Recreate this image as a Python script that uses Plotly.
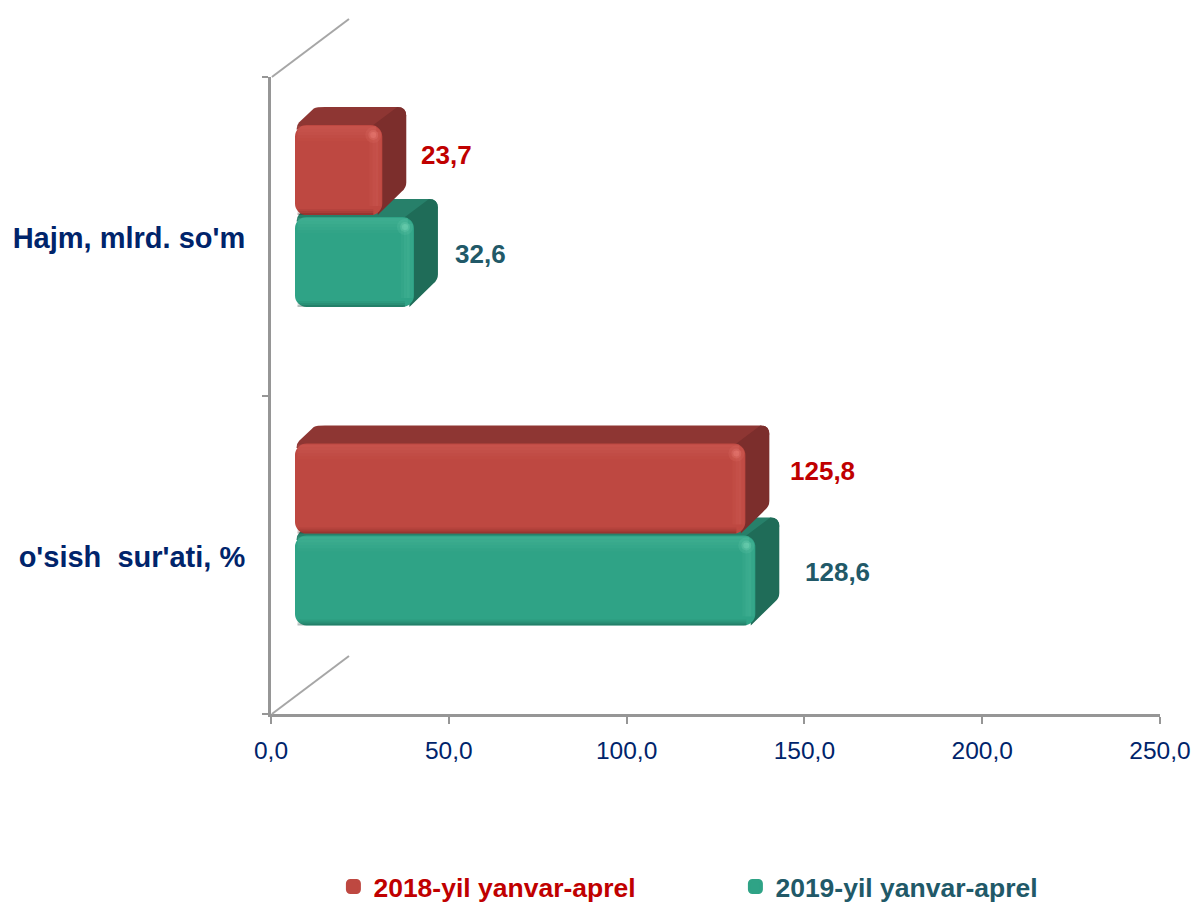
import plotly.graph_objects as go

# ---- data ----
categories = ["o'sish  sur'ati, %", "Hajm, mlrd. so'm"]
series_names = ["2018-yil yanvar-aprel", "2019-yil yanvar-aprel"]
values_2018 = [125.8, 23.7]
values_2019 = [128.6, 32.6]
x_ticks = [0, 50, 100, 150, 200, 250]

# ---- style ----
RED, RED_TOP, RED_SIDE, RED_TXT = "#BE4841", "#8E3633", "#7C2E2C", "#C00000"
GRN, GRN_TOP, GRN_SIDE, GRN_TXT = "#2FA386", "#27806A", "#1F6C58", "#215968"
AXIS = "#969696"
NAVY = "#00246B"
W, H = 1195, 903
L, R, T, B = 271, 35, 77, 189
UX = (W - L - R) / 250.0      # pixels per x unit
UY = (H - T - B) / 2.0        # pixels per category
EDGE = 1.5                    # half of the bar outline width, pixels
BASE = (24 + EDGE) / UX       # bars stand off the wall of the 3D box
DX, DY = 24 / UX, 18 / UY     # depth of the 3D box
RX, RY = 9 / UX, 9 / UY       # corner rounding
BAR_W = 87 / UY
RED_OFF, GRN_OFF = 0.0714, -0.2174
GAP_2018, GAP_2019 = [44, 38], [49, 40.5]     # label distance from bar end, pixels
LIFT_2018, LIFT_2019 = [0.262, 0.256], [-0.055, -0.055]


def side_path(x, y0, y1):
    """right face of a box, front edge at x, between y0 and y1"""
    xb, t, b = x + DX, y1 + DY, y0 + 27 / UY
    return (f"M{x-RX},{y1} L{xb-RX},{t} Q{xb},{t} {xb},{t-RY} "
            f"L{xb},{b+RY*0.6} Q{xb},{b} {xb-RX*0.5},{b-RY*0.4} L{x-RX*0.5},{y0} Z")


def top_path(x, y1):
    """top face of a box"""
    xb, t = x + DX, y1 + DY
    x0 = BASE
    return (f"M{x0},{y1-RY*0.5} Q{x0},{y1} {x0+RX*0.3},{y1+RY*0.3} L{x0+DX*0.72},{t-DY*0.08} "
            f"Q{x0+DX*0.85},{t} {x0+DX+RX*0.5},{t} "
            f"L{xb-RX},{t} Q{xb},{t} {xb},{t-RY} L{x},{y1-RY} Z")


def rect(x0, x1, y0, y1, color, layer="above"):
    return dict(type="rect", xref="x", yref="y", x0=x0, x1=x1, y0=y0, y1=y1,
                fillcolor=color, line_width=0, layer=layer)


def box_shapes(x, y0, y1, top, side):
    return [
        dict(type="path", xref="x", yref="y", path=top_path(x, y1), fillcolor=top,
             line_width=0, layer="below"),
        dict(type="path", xref="x", yref="y", path=side_path(x, y0, y1), fillcolor=side,
             line_width=0, layer="below"),
    ]


def highlight_shapes(x, y0, y1, glow, dark):
    s = []
    px = 1 / UX
    py = 1 / UY
    # soft light band along the top edge, fading downward
    for i, a in enumerate((0.14, 0.12, 0.09, 0.06, 0.03)):
        s.append(rect(BASE + 1 * px, x - 6 * px, y1 - (i * 3 + 1) * py, y1 - (i * 3 + 4) * py,
                      f"rgba({glow},{a})"))
    # light band along the right edge
    for i, a in enumerate((0.06, 0.12, 0.10, 0.05)):
        s.append(rect(x - (i * 3 + 1) * px, x - (i * 3 + 4) * px, y0 + 9 * py, y1 - 7 * py,
                      f"rgba({glow},{a})"))
    # corner glint
    cx, cy = x - 9 * px, y1 - 10 * py
    for r, a in ((8, 0.10), (5, 0.16), (3, 0.22)):
        s.append(dict(type="circle", xref="x", yref="y", x0=cx - r * px, x1=cx + r * px,
                      y0=cy - r * py, y1=cy + r * py, fillcolor=f"rgba({glow},{a})",
                      line_width=0, layer="above"))
    # dark lower edge
    for i, a in enumerate((0.30, 0.16, 0.07)):
        s.append(rect(BASE + 1 * px, x - 9 * px, y0 + i * 2 * py, y0 + (i + 1) * 2 * py,
                      f"rgba({dark},{a})"))
    return s


def label(v):
    return f"{v:.1f}".replace(".", ",")


fig = go.Figure()
fig.add_bar(name=f'<b><span style="color:{GRN_TXT}">{series_names[1]}</span></b>',
            y=categories, x=values_2019, base=BASE, orientation="h",
            width=BAR_W, offset=GRN_OFF,
            marker=dict(color=GRN, cornerradius=10, line=dict(color=GRN, width=2 * EDGE)),
            hoverinfo="skip")
fig.add_bar(name=f'<b><span style="color:{RED_TXT}">{series_names[0]}</span></b>',
            y=categories, x=values_2018, base=BASE, orientation="h",
            width=BAR_W, offset=RED_OFF,
            marker=dict(color=RED, cornerradius=10, line=dict(color=RED, width=2 * EDGE)),
            hoverinfo="skip")

annos = []
below, above = [], []
ev = EDGE / UX
ey = EDGE / UY
# green faces first, red faces over them
for i, cat in enumerate(categories):
    xe = BASE + values_2019[i] + ev
    lo, hi = i + GRN_OFF - ey, i + GRN_OFF + BAR_W + ey
    below += box_shapes(xe, lo, hi, GRN_TOP, GRN_SIDE)
    above += highlight_shapes(xe, lo, hi, "150,235,205", "10,50,40")
for i, cat in enumerate(categories):
    xe = BASE + values_2018[i] + ev
    lo, hi = i + RED_OFF - ey, i + RED_OFF + BAR_W + ey
    below += box_shapes(xe, lo, hi, RED_TOP, RED_SIDE)
    above += highlight_shapes(xe, lo, hi, "255,150,140", "70,10,10")
shapes = below + above

# depth lines of the 3D box floor and ceiling
depth_x = 78 / (W - L - R)
depth_y = 58 / (H - T - B)
for y in (0.0, 1.0):
    shapes.append(dict(type="line", xref="paper", yref="paper", x0=0.001, y0=y,
                       x1=depth_x, y1=y + depth_y,
                       line=dict(color="#A6A6A6", width=2)))

# data labels
for i in range(2):
    annos.append(dict(x=BASE + values_2018[i] + GAP_2018[i] / UX, y=i + LIFT_2018[i], xref="x", yref="y",
                      text=f"<b>{label(values_2018[i])}</b>", showarrow=False, xanchor="left",
                      font=dict(family="Liberation Sans", size=26, color=RED_TXT)))
    annos.append(dict(x=BASE + values_2019[i] + GAP_2019[i] / UX, y=i + LIFT_2019[i], xref="x", yref="y",
                      text=f"<b>{label(values_2019[i])}</b>", showarrow=False, xanchor="left",
                      font=dict(family="Liberation Sans", size=26, color=GRN_TXT)))

fig.update_layout(
    width=W, height=H, autosize=False,
    margin=dict(l=L, r=R, t=T, b=B, pad=0, autoexpand=False),
    paper_bgcolor="white", plot_bgcolor="white",
    barmode="overlay", separators=", ",
    shapes=shapes, annotations=annos,
    font=dict(family="Liberation Sans", color=NAVY),
    xaxis=dict(range=[0, 250], tickvals=x_ticks, tickformat=".1f", showgrid=False, zeroline=False,
               automargin=False, ticklabeloverflow="allow",
               showline=True, linecolor=AXIS, linewidth=3, ticks="outside", tickcolor=AXIS,
               tickwidth=2, ticklen=7, ticklabelstandoff=6,
               tickfont=dict(size=24.5, color=NAVY), anchor="y"),
    yaxis=dict(type="category", categoryorder="array", categoryarray=categories, range=[-0.5, 1.5],
               automargin=False,
               showgrid=False, zeroline=False, showline=True, linecolor=AXIS, linewidth=3,
               ticks="outside", tickson="boundaries", tickcolor=AXIS, tickwidth=2, ticklen=6,
               ticklabelstandoff=17, ticklabelshift=2,
               tickfont=dict(size=29, color=NAVY, weight="bold")),
    legend=dict(orientation="h", xref="container", yref="container", x=0.279, y=0.018,
                xanchor="left", yanchor="middle",
                traceorder="reversed", entrywidth=357, entrywidthmode="pixels",
                font=dict(family="Liberation Sans", size=26.5), bgcolor="rgba(0,0,0,0)"),
)

fig.write_html("out.html", config={"displayModeBar": False},
               post_script="document.body.style.margin='0';")
